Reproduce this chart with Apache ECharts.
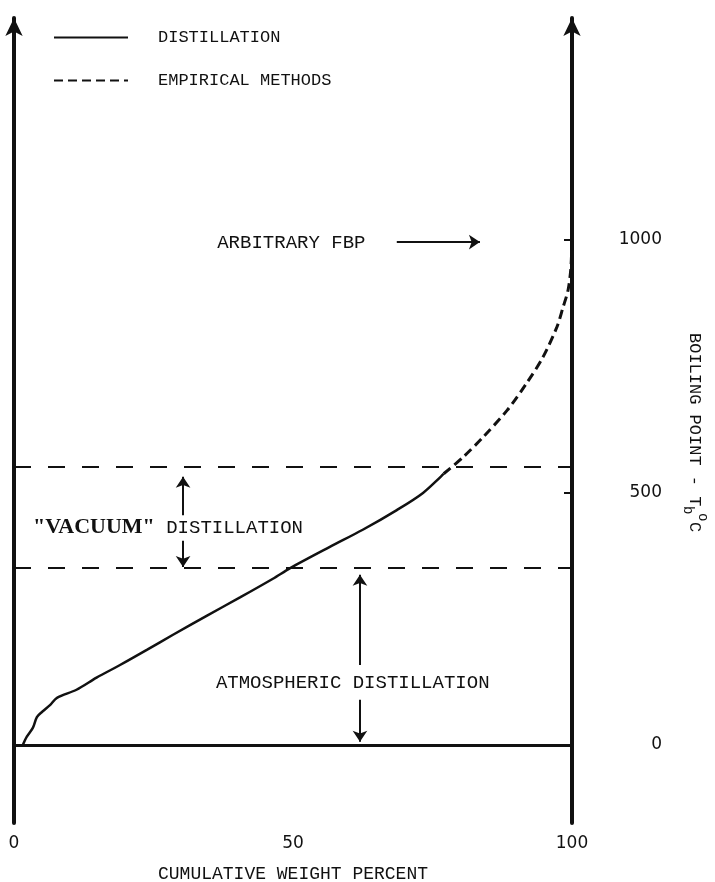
<!DOCTYPE html>
<html>
<head>
<meta charset="utf-8">
<script src="https://cdn.jsdelivr.net/npm/echarts@6/dist/echarts.min.js"></script>
<style>
  html, body { margin: 0; padding: 0; background: #fff; }
  #chart { width: 715px; height: 882px; }
</style>
</head>
<body>
<div id="chart"></div>
<script>
// Boiling point curve of a crude: cumulative weight percent vs boiling point (°C)

// Measured by distillation
const distillationX = [1.6, 2.3, 3.4, 4.1, 5.0, 6.5, 7.7, 11.2, 14.8, 19.0, 23.8, 28.5, 34.6, 40.5, 46.4, 49.5, 56.6, 62.5, 68.6, 73.3, 77.0];
const distillationY = [0, 16, 34, 55, 65, 79, 93, 109, 133, 158, 188, 218, 256, 292, 329, 350, 392, 426, 465, 499, 537];

// Extrapolated by empirical methods up to the final boiling point
const empiricalX = [77.0, 80.5, 84.1, 88.4, 91.9, 94.8, 97.3, 98.4, 99.3, 99.8, 100];
const empiricalY = [537, 570, 610, 663, 717, 768, 828, 867, 901, 945, 1000];

// Cut points separating atmospheric and vacuum distillation
const cutLevels = [350, 550];

// Tick labels
const xTickValues = [0, 50, 100];
const yTickValues = [0, 500, 1000];

// Annotations: text and where it sits (x in wt %, y in °C)
const noteText = ['ARBITRARY FBP', '{v|"VACUUM"} DISTILLATION', 'ATMOSPHERIC DISTILLATION'];
const noteX = [49.7, 27.6, 60.7];
const noteY = [995, 430, 123];

// Arrows: [x1, y1, x2, y2], head at the second point
const arrows = [
  [68.6, 996, 83.5, 996],
  [30.3, 455, 30.3, 531],
  [30.3, 404, 30.3, 352],
  [62.0, 158, 62.0, 337],
  [62.0, 89, 62.0, 6]
];

const ink = '#111';
const mono = 'Liberation Mono';
const sans = 'DejaVu Sans';

const zip = (xs, ys) => xs.map((x, i) => [x, ys[i]]);

const chart = echarts.init(document.getElementById('chart'), null, { renderer: 'canvas' });

const yAxisBase = {
  type: 'value',
  min: -155,
  max: 1440,
  splitLine: { show: false },
  axisLine: {
    show: true,
    symbol: ['none', 'arrow'],
    symbolSize: [13, 18],
    lineStyle: { color: ink, width: 4 }
  }
};

chart.setOption({
  animation: false,
  backgroundColor: '#fff',
  grid: { left: 14, right: 143, top: 18, bottom: 59, containLabel: false, outerBoundsMode: 'none' },
  legend: {
    data: ['DISTILLATION', 'EMPIRICAL METHODS'],
    orient: 'vertical',
    left: 48,
    top: 24,
    itemWidth: 74,
    itemHeight: 14,
    itemGap: 26,
    itemStyle: { opacity: 0 },
    textStyle: {
      fontFamily: mono,
      fontSize: 17,
      color: ink,
      padding: [0, 0, 0, 25]
    }
  },
  xAxis: {
    type: 'value',
    min: 0,
    max: 100,
    splitLine: { show: false },
    axisLine: { show: false },
    axisTick: { show: false },
    axisLabel: {
      customValues: xTickValues,
      margin: 12,
      fontFamily: sans,
      fontSize: 17,
      color: ink
    },
    name: 'CUMULATIVE WEIGHT PERCENT',
    nameLocation: 'middle',
    nameGap: 42,
    nameTextStyle: { fontFamily: mono, fontSize: 18, color: ink }
  },
  yAxis: [
    Object.assign({}, yAxisBase, {
      position: 'left',
      axisTick: { show: false },
      axisLabel: { show: false }
    }),
    Object.assign({}, yAxisBase, {
      position: 'right',
      axisTick: {
        show: true,
        inside: true,
        length: 8,
        customValues: yTickValues,
        lineStyle: { color: ink, width: 2 }
      },
      axisLabel: {
        customValues: yTickValues,
        formatter: v => String(v),
        margin: 90,
        align: 'right',
        fontFamily: sans,
        fontSize: 17,
        color: ink
      }
    })
  ],
  series: [
    {
      name: 'DISTILLATION',
      type: 'line',
      data: zip(distillationX, distillationY),
      smooth: 0.3,
      symbol: 'none',
      lineStyle: { color: ink, width: 2.5 },
      itemStyle: { color: ink },
      markLine: {
        silent: true,
        symbol: 'none',
        label: { show: false },
        lineStyle: { color: ink, width: 2, type: [17, 17] },
        data: cutLevels.map(v => ({ yAxis: v }))
      },
      z: 3
    },
    {
      name: 'EMPIRICAL METHODS',
      type: 'line',
      data: zip(empiricalX, empiricalY),
      smooth: 0.3,
      symbol: 'none',
      lineStyle: { color: ink, width: 3, type: [9, 5] },
      itemStyle: { color: ink },
      z: 3
    },
    {
      // zero line, arrows and annotation text
      name: 'notes',
      type: 'scatter',
      symbolSize: 0,
      itemStyle: { opacity: 1, color: ink },
      data: noteText.map((t, i) => ({ value: [noteX[i], noteY[i]], name: t })),
      label: {
        show: true,
        position: 'inside',
        formatter: '{b}',
        fontFamily: mono,
        fontSize: 19,
        color: ink,
        opacity: 1,
        rich: {
          v: { fontFamily: 'Liberation Serif', fontWeight: 'bold', fontSize: 22, color: ink }
        }
      },
      markLine: {
        silent: true,
        symbol: ['none', 'arrow'],
        symbolSize: 11,
        label: { show: false },
        lineStyle: { color: ink, width: 2, type: 'solid' },
        data: [
          [{ coord: [0, 0], symbol: 'none' }, { coord: [100, 0], symbol: 'none', lineStyle: { width: 3 } }]
        ].concat(arrows.map(a => [{ coord: [a[0], a[1]] }, { coord: [a[2], a[3]] }]))
      }
    }
  ],
  graphic: [
    {
      type: 'group',
      x: 694,
      y: 333,
      rotation: -Math.PI / 2,
      children: [
        { type: 'text', x: 0, y: 0, style: { text: 'BOILING POINT - T', fontFamily: mono, fontSize: 17, fill: ink, verticalAlign: 'middle' } },
        { type: 'text', x: 173, y: 6, style: { text: 'b', fontFamily: mono, fontSize: 14, fill: ink, verticalAlign: 'middle' } },
        { type: 'text', x: 180, y: -9, style: { text: 'o', fontFamily: mono, fontSize: 14, fill: ink, verticalAlign: 'middle' } },
        { type: 'text', x: 189, y: 0, style: { text: 'C', fontFamily: mono, fontSize: 17, fill: ink, verticalAlign: 'middle' } }
      ]
    }
  ]
});
</script>
</body>
</html>
